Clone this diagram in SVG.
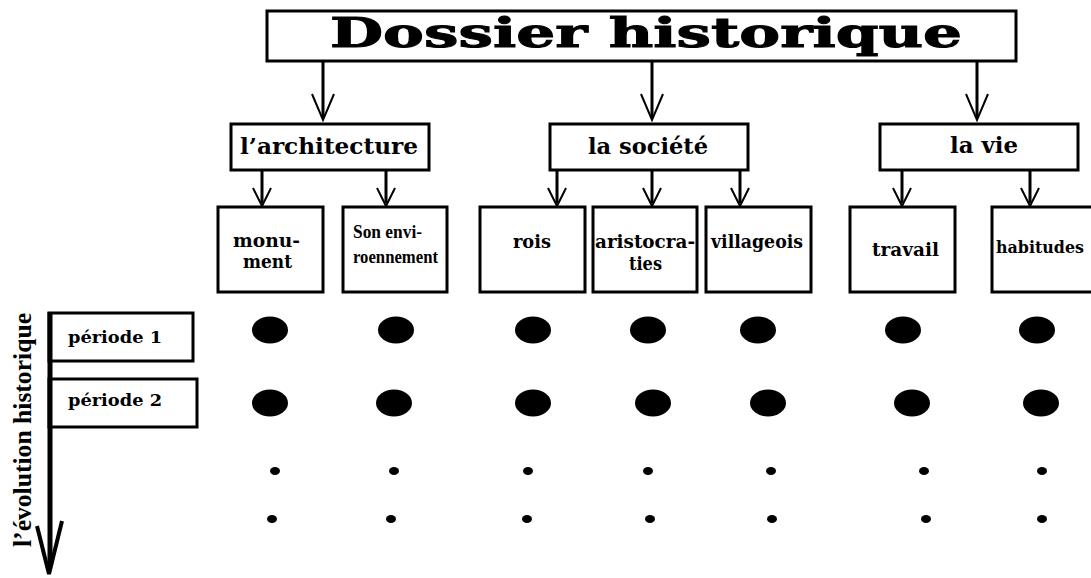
<svg xmlns="http://www.w3.org/2000/svg" width="1091" height="578" viewBox="0 0 1091 578">
<style>
.box{fill:#fff;stroke:#000;stroke-width:3}
.t{font-family:"DejaVu Serif","Liberation Serif",serif;font-weight:bold;fill:#000}
.c{font-family:"Liberation Serif","DejaVu Serif",serif;font-weight:bold;fill:#000}
.shaft{stroke:#000;stroke-width:3;fill:none}
.barb{stroke:#000;stroke-width:2;fill:none;stroke-linejoin:miter}
.dot{fill:#000}
</style>
<rect width="1091" height="578" fill="#fff"/>
<g id="title">
<rect class="box" x="267" y="11" width="749" height="50"/>
<text class="t" x="330" y="47" font-size="41" textLength="632" lengthAdjust="spacingAndGlyphs" stroke="#000" stroke-width="1">Dossier historique</text>
</g>
<g id="architecture">
<rect class="box" x="231" y="124" width="198" height="46"/>
<text class="t" x="240" y="154" font-size="22" textLength="178" lengthAdjust="spacingAndGlyphs">l’architecture</text>
</g>
<g id="societe">
<rect class="box" x="550" y="124" width="198" height="46"/>
<text class="t" x="588" y="154" font-size="22" textLength="120" lengthAdjust="spacingAndGlyphs">la société</text>
</g>
<g id="vie">
<rect class="box" x="880" y="124" width="198" height="46"/>
<text class="t" x="950" y="153" font-size="22" textLength="68" lengthAdjust="spacingAndGlyphs">la vie</text>
</g>
<g id="monument">
<rect class="box" x="218" y="207" width="105" height="85"/>
<text class="t" x="233" y="247" font-size="18" textLength="67" lengthAdjust="spacingAndGlyphs">monu-</text>
<text class="t" x="243" y="268" font-size="18" textLength="49" lengthAdjust="spacingAndGlyphs">ment</text>
</g>
<g id="environnement">
<rect class="box" x="343" y="207" width="104" height="85"/>
<text class="c" x="353" y="238" font-size="19" textLength="69" lengthAdjust="spacingAndGlyphs">Son envi-</text>
<text class="c" x="353" y="263" font-size="19" textLength="85" lengthAdjust="spacingAndGlyphs">roennement</text>
</g>
<g id="rois">
<rect class="box" x="480" y="207" width="105" height="85"/>
<text class="t" x="513" y="248" font-size="18" textLength="38" lengthAdjust="spacingAndGlyphs">rois</text>
</g>
<g id="aristocraties">
<rect class="box" x="593" y="207" width="104" height="85"/>
<text class="t" x="595" y="248" font-size="18" textLength="100" lengthAdjust="spacingAndGlyphs">aristocra-</text>
<text class="t" x="629" y="270" font-size="18" textLength="33" lengthAdjust="spacingAndGlyphs">ties</text>
</g>
<g id="villageois">
<rect class="box" x="706" y="207" width="105" height="85"/>
<text class="t" x="711" y="248" font-size="18" textLength="92" lengthAdjust="spacingAndGlyphs">villageois</text>
</g>
<g id="travail">
<rect class="box" x="850" y="207" width="105" height="85"/>
<text class="t" x="872" y="256" font-size="18" textLength="67" lengthAdjust="spacingAndGlyphs">travail</text>
</g>
<g id="habitudes">
<rect class="box" x="992" y="207" width="110" height="85"/>
<text class="t" x="996" y="253" font-size="17" textLength="88" lengthAdjust="spacingAndGlyphs">habitudes</text>
</g>
<g id="periode1">
<rect class="box" x="49" y="313" width="144" height="48"/>
<text class="t" x="68" y="343" font-size="17" textLength="94" lengthAdjust="spacingAndGlyphs">période 1</text>
</g>
<g id="periode2">
<rect class="box" x="49" y="379" width="148" height="48"/>
<text class="t" x="68" y="406" font-size="17" textLength="94" lengthAdjust="spacingAndGlyphs">période 2</text>
</g>
<g id="axis">
<line x1="50" y1="312" x2="50" y2="566" stroke="#000" stroke-width="5"/>
<path d="M37,526 L49,574 L62,521" fill="none" stroke="#000" stroke-width="4" stroke-linejoin="miter"/>
<text class="c" transform="translate(31,547) rotate(-90)" font-size="25" textLength="234" lengthAdjust="spacingAndGlyphs">l’évolution historique</text>
</g>
<g id="connectors">
<path class="shaft" d="M323,62 V117 M652,62 V117 M977,62 V117"/>
<path class="barb" d="M312,94 L323,120 L334,94 M641,94 L652,120 L663,94 M966,94 L977,120 L988,94"/>
<path class="shaft" d="M262,170 V203 M386,170 V203 M557,170 V203 M652,170 V203 M740,170 V203 M902,170 V203 M1030,170 V203"/>
<path class="barb" d="M253,188 L262,206 L271,188 M377,188 L386,206 L395,188 M548,188 L557,206 L566,188 M643,188 L652,206 L661,188 M731,188 L740,206 L749,188 M893,188 L902,206 L911,188 M1021,188 L1030,206 L1039,188"/>
</g>
<g id="dots">
<ellipse class="dot" cx="270" cy="330" rx="18" ry="13.5"/>
<ellipse class="dot" cx="396" cy="330" rx="18" ry="13.5"/>
<ellipse class="dot" cx="533" cy="330" rx="18" ry="13.5"/>
<ellipse class="dot" cx="648" cy="330" rx="18" ry="13.5"/>
<ellipse class="dot" cx="758" cy="330" rx="18" ry="13.5"/>
<ellipse class="dot" cx="903" cy="330" rx="18" ry="13.5"/>
<ellipse class="dot" cx="1037" cy="330" rx="18" ry="13.5"/>
<ellipse class="dot" cx="270" cy="403" rx="18" ry="13.5"/>
<ellipse class="dot" cx="394" cy="403" rx="18" ry="13.5"/>
<ellipse class="dot" cx="533" cy="403" rx="18" ry="13.5"/>
<ellipse class="dot" cx="653" cy="403" rx="18" ry="13.5"/>
<ellipse class="dot" cx="768" cy="403" rx="18" ry="13.5"/>
<ellipse class="dot" cx="912" cy="403" rx="18" ry="13.5"/>
<ellipse class="dot" cx="1041" cy="403" rx="18" ry="13.5"/>
<ellipse class="dot" cx="275" cy="471" rx="5" ry="4"/>
<ellipse class="dot" cx="394" cy="471" rx="5" ry="4"/>
<ellipse class="dot" cx="528" cy="471" rx="5" ry="4"/>
<ellipse class="dot" cx="648" cy="471" rx="5" ry="4"/>
<ellipse class="dot" cx="771" cy="471" rx="5" ry="4"/>
<ellipse class="dot" cx="924" cy="471" rx="5" ry="4"/>
<ellipse class="dot" cx="1042" cy="471" rx="5" ry="4"/>
<ellipse class="dot" cx="272" cy="519" rx="5" ry="4"/>
<ellipse class="dot" cx="391" cy="519" rx="5" ry="4"/>
<ellipse class="dot" cx="527" cy="519" rx="5" ry="4"/>
<ellipse class="dot" cx="650" cy="519" rx="5" ry="4"/>
<ellipse class="dot" cx="772" cy="519" rx="5" ry="4"/>
<ellipse class="dot" cx="926" cy="519" rx="5" ry="4"/>
<ellipse class="dot" cx="1042" cy="519" rx="5" ry="4"/>
</g>
</svg>
